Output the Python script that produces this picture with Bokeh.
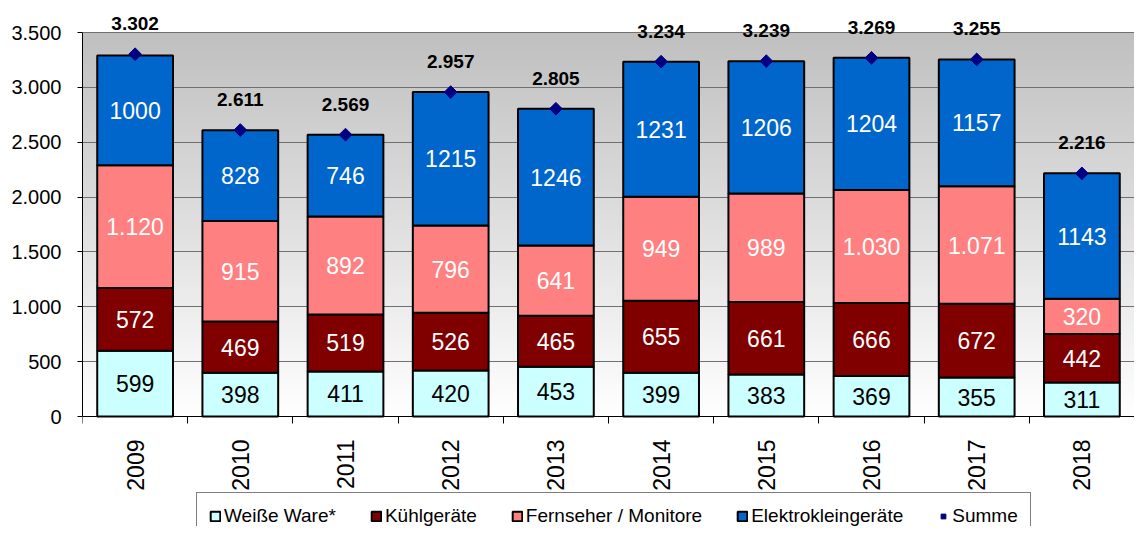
import numpy as np
from bokeh.plotting import figure
from bokeh.models import (ColumnDataSource, Range1d, FixedTicker, LabelSet,
                          Legend, LegendItem)
from bokeh.core.properties import value
from bokeh.embed import file_html
from bokeh.resources import INLINE

# ---------------- data ----------------
years = ["2009", "2010", "2011", "2012", "2013", "2014", "2015", "2016", "2017", "2018"]
weisse = [599, 398, 411, 420, 453, 399, 383, 369, 355, 311]
kuehl = [572, 469, 519, 526, 465, 655, 661, 666, 672, 442]
fernseher = [1120, 915, 892, 796, 641, 949, 989, 1030, 1071, 320]
elektro = [1000, 828, 746, 1215, 1246, 1231, 1206, 1204, 1157, 1143]
summe = [3302, 2611, 2569, 2957, 2805, 3234, 3239, 3269, 3255, 2216]

series_keys = ["weisse", "kuehl", "fernseher", "elektro"]
series_names = ["Weiße Ware*", "Kühlgeräte", "Fernseher / Monitore", "Elektrokleingeräte"]
series_colors = ["#CCFFFF", "#800000", "#FF8080", "#0066CC"]
label_colors = ["#000000", "#FFFFFF", "#FFFFFF", "#FFFFFF"]
summe_name = "Summe"
summe_color = "#000080"
y_ticks = [0, 500, 1000, 1500, 2000, 2500, 3000, 3500]

FONT = "Liberation Sans"


def de(n):
    return f"{n:,}".replace(",", ".")


n = len(years)
xs = [i + 0.5 for i in range(n)]

# layout in pixels: frame covers the whole height below a 10px top border;
# the value axis 0..3500 occupies 384px, leaving room for x labels + legend.
top_border = 10
fig_h = 526
px_top_to_3500 = 22.0
px_0_to_bottom = 110.0
ppu = 384.0 / y_ticks[-1]
y_top = y_ticks[-1] + px_top_to_3500 / ppu
y_bottom = -px_0_to_bottom / ppu

p = figure(frame_width=1052, frame_height=fig_h - top_border,
           x_range=Range1d(0, n), y_range=Range1d(y_bottom, y_top),
           output_backend="svg", toolbar_location=None,
           min_border_left=82, min_border_right=0,
           min_border_top=top_border, min_border_bottom=0)
p.outline_line_color = None
p.background_fill_color = "white"
p.border_fill_color = "white"

# gradient plot-area background (grey at top, white at bottom)
ny = 256
t = np.linspace(0, 1, ny)
g = (255 - 63 * t).astype(np.uint8)
img = np.empty((ny, 1), dtype=np.uint32)
view = img.view(dtype=np.uint8).reshape((ny, 1, 4))
view[:, 0, 0] = g
view[:, 0, 1] = g
view[:, 0, 2] = g
view[:, 0, 3] = 255
p.image_rgba(image=[img], x=0, y=0, dw=n, dh=y_ticks[-1], level="image")

# stacked bars
src = ColumnDataSource(dict(x=xs, weisse=weisse, kuehl=kuehl,
                            fernseher=fernseher, elektro=elektro))
bar_renderers = p.vbar_stack(series_keys, x="x", width=0.72, source=src,
                             fill_color=series_colors, line_color="black",
                             line_width=2)

# segment labels
vals = [weisse, kuehl, fernseher, elektro]
fmt = [str, str, de, str]
lx, ly, lt, lc = [], [], [], []
bottom = np.zeros(n)
for v, f, c in zip(vals, fmt, label_colors):
    arr = np.array(v, dtype=float)
    mid = bottom + arr / 2
    for i in range(n):
        lx.append(xs[i])
        ly.append(mid[i])
        lt.append(f(v[i]))
        lc.append(c)
    bottom = bottom + arr
lsrc = ColumnDataSource(dict(x=lx, y=ly, text=lt, color=lc))
p.text(x="x", y="y", text="text", text_color="color", source=lsrc,
       text_font=value(FONT), text_font_size="23px",
       text_align="center", text_baseline="middle")

# Summe markers and labels
ssrc = ColumnDataSource(dict(x=xs, y=summe, text=[de(s) for s in summe]))
sum_r = p.scatter(x="x", y="y", source=ssrc, marker="square", angle=np.pi / 4,
                  size=9, fill_color=summe_color, line_color=summe_color)
p.add_layout(LabelSet(x="x", y="y", text="text", source=ssrc,
                      text_font=value(FONT), text_font_size="19px",
                      text_font_style="bold", text_color="black",
                      text_align="center", text_baseline="alphabetic",
                      y_offset=24))

# axes
xa = p.xaxis[0]
xa.fixed_location = 0
xa.ticker = FixedTicker(ticks=xs, minor_ticks=list(range(0, n + 1)))
xa.major_label_overrides = {x: y for x, y in zip(xs, years)}
xa.major_label_orientation = np.pi / 2
xa.major_tick_line_color = None
xa.major_tick_out = 0
xa.major_tick_in = 0
xa.minor_tick_line_color = "black"
xa.minor_tick_out = 7
xa.minor_tick_in = 0
xa.major_label_standoff = 16
xa.major_label_text_font = FONT
xa.major_label_text_font_size = "23px"
xa.major_label_text_color = "black"
xa.axis_line_color = "black"

ya = p.yaxis[0]
ya.ticker = FixedTicker(ticks=y_ticks)
ya.bounds = (y_ticks[0], y_ticks[-1])
ya.major_label_overrides = {t_: de(t_) for t_ in y_ticks}
ya.major_tick_out = 5
ya.major_tick_in = 0
ya.minor_tick_line_color = None
ya.major_label_standoff = 16
ya.major_label_text_font = FONT
ya.major_label_text_font_size = "20px"
ya.major_label_text_color = "black"
ya.axis_line_color = "black"

p.xgrid.visible = False
p.ygrid.ticker = FixedTicker(ticks=y_ticks)
p.ygrid.grid_line_color = "#707070"
p.ygrid.grid_line_width = 1

# legend (inside the frame, below the x labels; bottom runs off the picture)
items = [LegendItem(label=nm, renderers=[r]) for nm, r in zip(series_names, bar_renderers)]
items.append(LegendItem(label=summe_name, renderers=[sum_r]))
legend = Legend(items=items, location=(114, -14), orientation="horizontal",
                glyph_width=12, glyph_height=12, label_standoff=3, spacing=34,
                padding=12, margin=0,
                label_text_font=FONT, label_text_font_size="19px",
                label_text_color="black",
                border_line_color="black", border_line_width=1,
                background_fill_color="white", background_fill_alpha=1)
p.add_layout(legend)

open("out.html", "w").write(file_html(p, INLINE))
